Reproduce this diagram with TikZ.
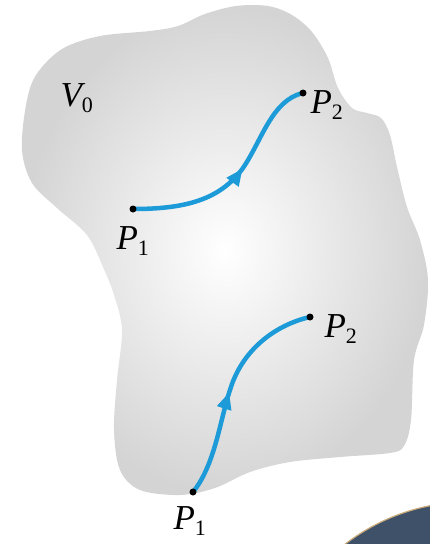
\documentclass[tikz,border=0pt]{standalone}
\usepackage{fontspec}
\setmainfont{Liberation Serif}
\usetikzlibrary{decorations.markings,arrows.meta}
\pgfdeclarelayer{back}
\pgfdeclarelayer{mid}
\pgfsetlayers{back,mid,main}
\definecolor{pathblue}{HTML}{1C9BD8}
\definecolor{disc}{HTML}{3F5168}
\definecolor{discrim}{HTML}{C9AA7A}
\tikzset{
  lbl/.style={font=\fontsize{35}{40}\selectfont\itshape, inner sep=0pt},
  pt/.style={circle, fill=black, minimum size=7pt, inner sep=0pt},
  flow/.style={draw=pathblue, line width=4.5pt, line cap=round,
    postaction={decorate},
    decoration={markings, mark=at position #1 with {\arrow[pathblue]{Triangle[length=17pt,width=14pt]}}}}
}
\newcommand{\subn}[1]{\textsubscript{\upshape\fontsize{22}{22}\selectfont #1}}
\begin{document}
\begin{tikzpicture}[x=1pt,y=-1pt]
\useasboundingbox (0,0) rectangle (429,544);
% points
\node[pt] (a1) at (133,209) {};
\node[pt] (a2) at (303,93) {};
\node[pt] (b1) at (193,492) {};
\node[pt] (b2) at (310,317) {};
\begin{pgfonlayer}{back}
% region
\shade[inner color=white, outer color=black!17]
  plot[smooth cycle, tension=0.55] coordinates {
   (26,105) (36,75) (62,49) (100,36) (150,31) (178,26) (205,14) (236,6) (268,6)
   (292,15) (312,32) (328,58) (338,88) (352,108) (367,113) (381,118) (390,135)
   (397,167) (407,207) (420,240) (428,280) (424,325) (414,360) (411,420) (404,446)
   (390,453) (340,457) (290,462) (250,472) (215,488) (180,495) (140,490) (120,470)
   (114,430) (117,380) (122,330) (114,295) (103,267) (87,235) (57,208) (32,183) (22,150)};
% disc in the corner
\fill[disc, draw=discrim, line width=1.2pt] (469,705) circle (203);
\end{pgfonlayer}
\begin{pgfonlayer}{mid}
\draw[flow=0.55] (a1.center) .. controls (185,209) and (220,200) .. (243,168)
  .. controls (262,140) and (272,100) .. (a2.center);
\draw[flow=0.48] (b1.center) .. controls (215,465) and (220,420) .. (230,390)
  .. controls (242,350) and (275,325) .. (b2.center);
\end{pgfonlayer}
% labels
\node[lbl] (v0) at (77,98) {V\subn{0}};
\node[lbl] (p1a) at (133,241) {P\subn{1}};
\node[lbl] (p2a) at (327,105) {P\subn{2}};
\node[lbl] (p1b) at (190,521) {P\subn{1}};
\node[lbl] (p2b) at (341,329) {P\subn{2}};
\end{tikzpicture}
\end{document}
